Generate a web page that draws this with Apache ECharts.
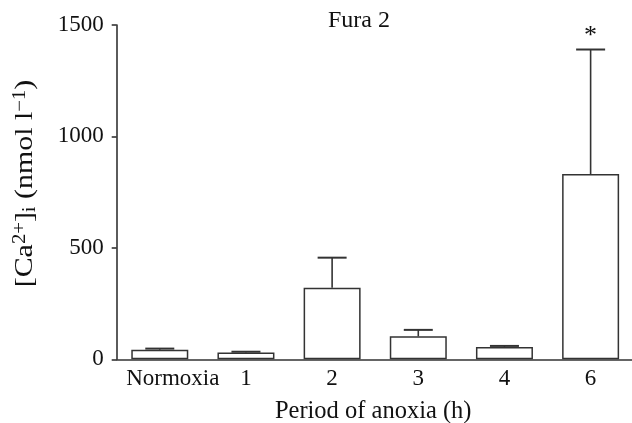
<!DOCTYPE html>
<html>
<head>
<meta charset="utf-8">
<script src="https://cdn.jsdelivr.net/npm/echarts@6/dist/echarts.min.js"></script>
<style>html,body{margin:0;padding:0;background:#fff}#c{width:632px;height:423px}</style>
</head>
<body>
<div id="c"></div>
<script>
const categories = ['Normoxia', '1', '2', '3', '4', '6'];
const means = [43, 30, 321, 103, 55, 831];
const upperErrors = [48, 34, 456, 132, 60, 1390];
const significance = ['', '', '', '', '', '*'];
const yTicks = [0, 500, 1000, 1500];
const yAxisTitle = '{n|[Ca}{sup|2+}{n|]}{sub|i}{n| (nmol l}{sup|−1}{n|)}';

const FONT = '"Liberation Serif", "Times New Roman", serif';
const INK = '#111';
const LINE = '#333';
const FS = 23;

const chart = echarts.init(document.getElementById('c'), null, {renderer: 'canvas'});

const errData = categories.map((c, i) => [i, means[i], upperErrors[i], significance[i]]);

chart.setOption({
  animation: false,
  backgroundColor: '#fff',
  title: {
    text: 'Fura 2',
    left: 354, top: 4, textAlign: 'center',
    textStyle: {fontFamily: FONT, fontSize: 24, fontWeight: 'normal', color: INK}
  },
  graphic: [{
    type: 'text',
    x: 25, y: 183.5,
    rotation: Math.PI / 2,
    scaleX: 1.15,
    style: {
      text: yAxisTitle,
      align: 'center', verticalAlign: 'middle',
      rich: {
        n: {fontFamily: FONT, fontSize: 26, fill: INK, lineHeight: 28},
        sup: {fontFamily: FONT, fontSize: 18, fill: INK, verticalAlign: 'top', lineHeight: 13},
        sub: {fontFamily: FONT, fontSize: 18, fill: INK, verticalAlign: 'bottom', lineHeight: 15}
      }
    }
  }],
  grid: {left: 116.7, top: 25, width: 517, height: 334.3, containLabel: false, outerBoundsMode: 'none'},
  xAxis: {
    type: 'category',
    data: categories.map((c, i) => i === 0 ? {value: c, textStyle: {padding: [0, 0, 0, 26]}} : c),
    axisLine: {lineStyle: {color: LINE, width: 1.6}},
    axisTick: {show: false},
    axisLabel: {fontFamily: FONT, fontSize: FS, color: INK, margin: 8, interval: 0},
    name: 'Period of anoxia (h)',
    nameLocation: 'middle',
    nameGap: 40,
    nameTextStyle: {fontFamily: FONT, fontSize: 24.5, color: INK, padding: [0, 4, 0, 0]}
  },
  yAxis: {
    type: 'value',
    min: yTicks[0], max: yTicks[yTicks.length - 1], interval: 500,
    splitLine: {show: false},
    axisLine: {show: true, lineStyle: {color: LINE, width: 1.6}},
    axisTick: {show: true, length: 5, lineStyle: {color: LINE, width: 1.6}},
    axisLabel: {fontFamily: FONT, fontSize: FS, color: INK, margin: 13, formatter: v => String(v)}
  },
  series: [
    {
      type: 'bar',
      data: means,
      barWidth: 57,
      itemStyle: {color: '#fff', borderColor: LINE, borderWidth: 1.5},
      z: 2
    },
    {
      type: 'custom',
      data: errData,
      z: 3,
      renderItem: function (params, api) {
        const i = api.value(0);
        const base = api.coord([i, api.value(1)]);
        const top = api.coord([i, api.value(2)]);
        const half = 14.5;
        const children = [
          {type: 'line', shape: {x1: base[0], y1: base[1], x2: top[0], y2: top[1]},
           style: {stroke: LINE, lineWidth: 1.6}},
          {type: 'line', shape: {x1: top[0] - half, y1: top[1], x2: top[0] + half, y2: top[1]},
           style: {stroke: LINE, lineWidth: 2}}
        ];
        const sig = significance[i];
        if (sig) {
          children.push({type: 'text', x: top[0], y: top[1],
            style: {text: sig, fontFamily: FONT, fontSize: 26, fill: INK, align: 'center', verticalAlign: 'bottom'}});
        }
        return {type: 'group', children: children};
      }
    }
  ]
});
</script>
</body>
</html>
